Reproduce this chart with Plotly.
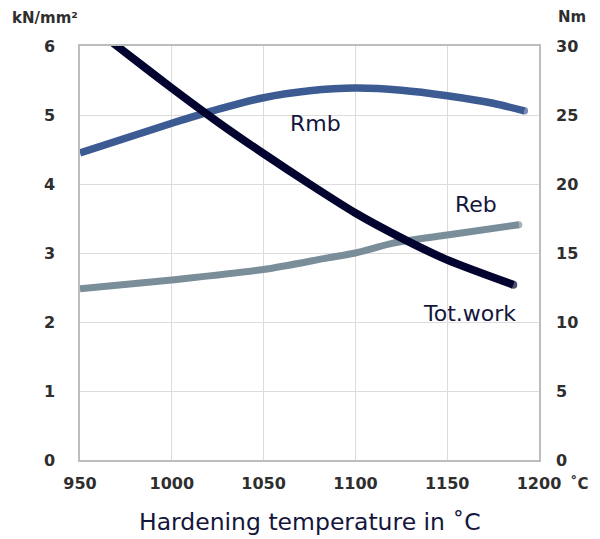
import plotly.graph_objects as go

# Data
x_ticks = [950, 1000, 1050, 1100, 1150, 1200]

rmb_temp = [950, 1000, 1025, 1050, 1075, 1100, 1125, 1150, 1175, 1192]
rmb_val = [4.45, 4.88, 5.08, 5.25, 5.35, 5.39, 5.36, 5.28, 5.17, 5.06]   # kN/mm²

reb_temp = [950, 1000, 1050, 1085, 1100, 1120, 1150, 1189]
reb_val = [2.48, 2.61, 2.76, 2.93, 3.00, 3.14, 3.26, 3.41]              # kN/mm²

tot_temp = [950, 975, 1000, 1025, 1050, 1075, 1100, 1125, 1150, 1186]
tot_val = [32.1, 29.5, 26.95, 24.5, 22.2, 20.0, 17.9, 16.1, 14.5, 12.7]  # Nm

C_RMB = "#3d5b93"
C_REB = "#7a8e9a"
C_TOT = "#03032f"
C_TXT = "#14163c"
C_TICK = "#2e2e2e"
FONT = "DejaVu Sans"


def end_marker(n, size):
    return [0] * (n - 1) + [size]


fig = go.Figure()

fig.add_trace(go.Scatter(
    x=reb_temp, y=reb_val, mode="lines+markers", name="Reb",
    line=dict(color=C_REB, width=7, shape="spline", smoothing=0.7),
    marker=dict(color=C_REB, size=end_marker(len(reb_temp), 7), line=dict(width=0)),
    yaxis="y", hoverinfo="skip"))

fig.add_trace(go.Scatter(
    x=rmb_temp, y=rmb_val, mode="lines+markers", name="Rmb",
    line=dict(color=C_RMB, width=7.5, shape="spline", smoothing=0.7),
    marker=dict(color=C_RMB, size=end_marker(len(rmb_temp), 7.5), line=dict(width=0)),
    yaxis="y", hoverinfo="skip"))

fig.add_trace(go.Scatter(
    x=tot_temp, y=tot_val, mode="lines+markers", name="Tot.work",
    line=dict(color=C_TOT, width=8, shape="spline", smoothing=0.7),
    marker=dict(color=C_TOT, size=end_marker(len(tot_temp), 8), line=dict(width=0)),
    yaxis="y2", hoverinfo="skip", cliponaxis=True))

grid = "#dcdcdc"
border = "#bdbdbd"
tickfont = dict(family=FONT, size=16, color=C_TICK, weight="bold")

# page body adds an 8px margin, so the figure is 8px smaller and margins shifted
fig.update_layout(
    width=592, height=531,
    margin=dict(l=72, r=61, t=38, b=79, autoexpand=False),
    paper_bgcolor="white", plot_bgcolor="white",
    showlegend=False,
    xaxis=dict(range=[950, 1200], tickvals=x_ticks, ticktext=[str(v) for v in x_ticks],
               showgrid=True, gridcolor=grid, gridwidth=1,
               showline=True, linecolor=border, linewidth=1.5, mirror=True,
               zeroline=False, ticks="", tickfont=tickfont, ticklabelstandoff=8,
               automargin=False),
    yaxis=dict(range=[0, 6], dtick=1, showgrid=True, gridcolor=grid, gridwidth=1,
               showline=True, linecolor=border, linewidth=1.5, mirror=True,
               zeroline=False, ticks="", tickfont=tickfont, ticklabelstandoff=20,
               automargin=False),
    yaxis2=dict(range=[0, 30], dtick=5, overlaying="y", side="right", showgrid=False,
                showline=False, zeroline=False, ticks="", tickfont=tickfont,
                ticklabelstandoff=16, automargin=False),
)

ann_font = dict(family=FONT, size=22, color=C_TXT)
fig.add_annotation(x=1078.5, y=4.88, xref="x", yref="y", text="Rmb", showarrow=False, font=ann_font)
fig.add_annotation(x=1165.7, y=3.71, xref="x", yref="y", text="Reb", showarrow=False, font=ann_font)
fig.add_annotation(x=1162.4, y=2.12, xref="x", yref="y", text="Tot.work", showarrow=False, font=ann_font)

unit_font = dict(family=FONT, size=15, color=C_TICK, weight="bold")
fig.add_annotation(x=-0.076, y=1.068, xref="paper", yref="paper", text="kN/mm²",
                   showarrow=False, font=unit_font, xanchor="center", yanchor="middle")
fig.add_annotation(x=1.072, y=1.07, xref="paper", yref="paper", text="Nm",
                   showarrow=False, font=unit_font, xanchor="center", yanchor="middle")
fig.add_annotation(x=1.089, y=-0.058, xref="paper", yref="paper", text="˚C",
                   showarrow=False, font=unit_font, xanchor="center", yanchor="middle")
fig.add_annotation(x=0.5, y=-0.15, xref="paper", yref="paper",
                   text="Hardening temperature in ˚C", showarrow=False,
                   font=dict(family=FONT, size=23.5, color=C_TXT),
                   xanchor="center", yanchor="middle")

fig.write_html("out.html")
